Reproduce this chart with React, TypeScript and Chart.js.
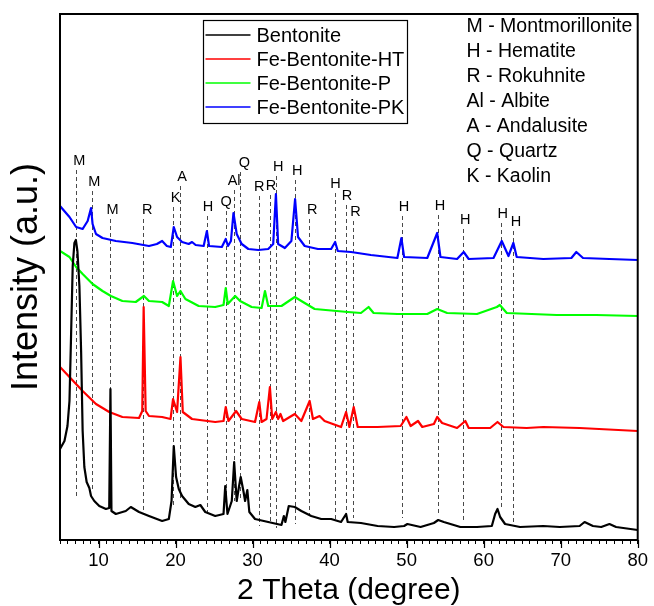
import React, { useEffect, useRef } from 'react';
import { Chart, registerables } from 'chart.js';

Chart.register(...registerables);

const FONT = '"Liberation Sans", Arial, Helvetica, sans-serif';

// ---- series (2θ in degrees, intensity in a.u., traces already offset) ----
const seriesNames = ['Bentonite', 'Fe-Bentonite-HT', 'Fe-Bentonite-P', 'Fe-Bentonite-PK'];
const seriesColors = ['#000000', '#ff0000', '#00ff00', '#0000ff'];

const bentonite: [number, number][] = [
  [5.0, 91], [5.58, 99], [5.97, 114], [6.23, 139], [6.42, 199], [6.65, 274], [6.87, 297], [7.06, 300],
  [7.26, 289], [7.52, 254], [7.74, 189], [7.94, 109], [8.16, 73], [8.46, 58], [8.81, 52], [9.03, 44],
  [9.45, 39], [10.1, 34], [10.96, 31], [11.39, 32], [11.55, 151], [11.68, 29], [12.25, 26], [13.54, 29],
  [14.19, 33], [15.26, 28], [16.55, 24], [18.26, 19], [19.13, 21], [19.48, 39], [19.77, 94], [20.07, 63],
  [20.42, 51], [20.85, 44], [21.71, 36], [22.57, 33], [23.22, 35], [23.86, 28], [25.15, 24], [26.23, 26],
  [26.45, 54], [26.74, 26], [27.3, 39], [27.61, 78], [27.94, 39], [28.25, 54], [28.46, 63], [28.81, 49],
  [29.03, 39], [29.32, 50], [29.58, 28], [30.32, 21], [32.03, 18], [33.75, 15], [34.06, 24], [34.26, 18],
  [34.7, 34], [35.48, 33], [36.33, 29], [37.62, 24], [38.91, 21], [40.2, 21], [41.49, 18], [42.14, 26],
  [42.35, 18], [44.07, 17], [46.23, 14], [48.38, 13], [49.67, 14], [50.1, 16], [51.81, 13], [53.54, 17],
  [54.1, 20], [54.83, 18], [56.97, 13], [59.13, 13], [61.06, 14], [61.49, 26], [61.8, 31], [62.14, 23],
  [62.78, 16], [64.72, 13], [67.74, 14], [69.88, 13], [72.46, 14], [73.1, 18], [74.19, 14], [75.26, 13],
  [76.33, 16], [77.19, 13], [80.0, 10],
];

const feBentoniteHT: [number, number][] = [
  [5.0, 173], [6.23, 163], [7.94, 149], [9.67, 136], [11.39, 128], [13.1, 123], [15.26, 122], [15.68, 129],
  [15.86, 233], [16.12, 129], [16.55, 124], [18.26, 123], [19.35, 121], [19.68, 141], [20.2, 128], [20.64, 183],
  [20.94, 128], [22.14, 121], [25.15, 118], [26.23, 119], [26.52, 133], [26.87, 119], [27.86, 129], [28.59, 121],
  [30.32, 118], [30.87, 138], [31.17, 118], [31.81, 121], [32.25, 153], [32.55, 121], [33.03, 128], [33.32, 121],
  [33.62, 126], [33.97, 119], [35.48, 126], [36.33, 119], [37.41, 139], [37.84, 121], [38.7, 124], [39.35, 119],
  [41.49, 113], [42.14, 128], [42.57, 113], [43.13, 133], [43.65, 113], [46.23, 113], [49.23, 114], [49.97, 123],
  [50.52, 114], [51.48, 119], [52.03, 113], [53.54, 116], [53.97, 123], [54.61, 117], [56.55, 112], [57.62, 119],
  [58.06, 112], [60.85, 112], [61.8, 118], [62.57, 113], [65.58, 112], [67.74, 113], [72.46, 112], [80.0, 109],
];

const feBentoniteP: [number, number][] = [
  [5.0, 289], [6.23, 283], [7.09, 273], [7.94, 266], [9.23, 256], [10.52, 249], [11.61, 244], [13.1, 239],
  [14.83, 238], [15.9, 244], [16.55, 239], [18.26, 238], [19.13, 234], [19.68, 259], [20.2, 244], [20.64, 249],
  [21.28, 241], [23.0, 234], [25.15, 233], [26.23, 235], [26.52, 252], [26.78, 236], [27.74, 244], [28.38, 239],
  [29.88, 233], [31.17, 232], [31.61, 249], [32.03, 234], [33.75, 234], [35.48, 243], [36.33, 239], [38.06, 231],
  [42.35, 228], [44.07, 227], [45.06, 233], [45.71, 227], [48.8, 226], [52.68, 226], [53.97, 231], [55.26, 227],
  [59.13, 226], [61.71, 233], [62.1, 235], [63.0, 227], [69.45, 225], [74.6, 225], [80.0, 224],
];

const feBentonitePK: [number, number][] = [
  [5.0, 334], [6.23, 323], [7.09, 313], [7.94, 311], [8.59, 319], [9.03, 332], [9.23, 316], [9.67, 306],
  [10.52, 302], [12.25, 299], [14.39, 297], [16.55, 294], [17.58, 296], [18.26, 299], [18.87, 294], [19.39, 293],
  [19.77, 313], [20.2, 303], [20.85, 298], [21.71, 296], [22.14, 298], [22.61, 295], [23.65, 294], [24.07, 309],
  [24.35, 294], [26.01, 293], [26.52, 301], [26.81, 294], [27.19, 299], [27.52, 327], [27.94, 306], [28.59, 296],
  [29.45, 291], [30.74, 290], [32.03, 291], [32.68, 296], [33.03, 346], [33.32, 296], [34.19, 292], [35.04, 299],
  [35.52, 341], [35.9, 303], [36.77, 294], [38.48, 291], [40.2, 291], [40.72, 298], [41.06, 289], [42.78, 288],
  [45.36, 285], [48.8, 282], [49.32, 302], [49.67, 283], [52.68, 282], [53.97, 307], [54.39, 283], [56.55, 281],
  [57.41, 288], [58.06, 281], [61.28, 282], [62.35, 299], [63.22, 284], [63.86, 297], [64.29, 283], [67.74, 281],
  [71.39, 282], [72.03, 288], [72.9, 282], [76.33, 281], [80.0, 280],
];

const seriesData = [bentonite, feBentoniteHT, feBentoniteP, feBentonitePK];

// ---- phase markers ----
const markerPos = [7.09, 9.1, 11.55, 15.8, 19.7, 20.64, 24.03, 26.5, 27.55, 28.35, 30.8, 32.2, 33.06, 35.56, 37.3, 40.7, 42.1, 43.05, 49.37, 54.1, 57.3, 62.2, 63.86];
const markerText = ['M', 'M', 'M', 'R', 'K', 'A', 'H', 'Q', 'Al', 'Q', 'R', 'R', 'H', 'H', 'R', 'H', 'R', 'R', 'H', 'H', 'H', 'H', 'H'];
const markerLabelX = [7.52, 9.45, 11.81, 16.33, 19.99, 20.85, 24.2, 26.57, 27.6, 28.94, 30.87, 32.38, 33.32, 35.81, 37.75, 40.77, 42.26, 43.35, 49.67, 54.32, 57.62, 62.48, 64.2];
const markerLabelY = [379, 358, 330, 330, 342, 363, 333, 338, 359, 377, 353, 354, 373, 369, 330, 356, 344, 328, 333, 334, 320, 326, 318];
const markerBottom = [41, 51, 34, 26, 34, 42, 27, 29, 39, 39, 14, 17, 12, 16, 24, 19, 26, 22, 22, 26, 17, 31, 17];

const phaseLegend = ['M - Montmorillonite', 'H - Hematite', 'R - Rokuhnite', 'Al - Albite', 'A - Andalusite', 'Q - Quartz', 'K - Kaolin'];

const xMin = 5;
const xMax = 80;
const yMin = 0;
const yMax = 526;
const majorTicks = [10, 20, 30, 40, 50, 60, 70, 80];

const markersBehind = {
  id: 'markersBehind',
  beforeDatasetsDraw(chart: any) {
    const { ctx, scales } = chart;
    const x = scales.x;
    const y = scales.y;
    ctx.save();
    ctx.strokeStyle = '#4a4a4a';
    ctx.lineWidth = 1;
    ctx.setLineDash([4, 3]);
    markerPos.forEach((p, i) => {
      const px = Math.round(x.getPixelForValue(p)) + 0.5;
      const top = y.getPixelForValue(markerLabelY[i]) + 9;
      const bot = y.getPixelForValue(markerBottom[i]);
      ctx.beginPath();
      ctx.moveTo(px, top);
      ctx.lineTo(px, bot);
      ctx.stroke();
    });
    ctx.restore();
  },
};

const overlay = {
  id: 'overlay',
  afterDraw(chart: any) {
    const { ctx, chartArea: a, scales } = chart;
    const x = scales.x;
    const y = scales.y;
    ctx.save();
    // peak labels
    ctx.fillStyle = '#000';
    ctx.font = `14.5px ${FONT}`;
    ctx.textAlign = 'center';
    ctx.textBaseline = 'middle';
    markerText.forEach((t, i) => {
      ctx.fillText(t, x.getPixelForValue(markerLabelX[i]), y.getPixelForValue(markerLabelY[i]));
    });
    // frame
    ctx.strokeStyle = '#000';
    ctx.lineWidth = 2;
    ctx.strokeRect(a.left, a.top, a.right - a.left, a.bottom - a.top);
    // longer major ticks
    ctx.lineWidth = 1.2;
    majorTicks.forEach((v) => {
      const px = Math.round(x.getPixelForValue(v)) + 0.5;
      ctx.beginPath();
      ctx.moveTo(px, a.bottom);
      ctx.lineTo(px, a.bottom + 8);
      ctx.stroke();
    });
    // series legend
    const lx = 203.5;
    const ly = 20.5;
    ctx.lineWidth = 1.2;
    ctx.strokeRect(lx, ly, 204, 103);
    ctx.font = `20px ${FONT}`;
    ctx.textAlign = 'left';
    chart.data.datasets.forEach((ds: any, i: number) => {
      const ry = 35 + i * 24;
      ctx.strokeStyle = ds.borderColor;
      ctx.lineWidth = 1.6;
      ctx.beginPath();
      ctx.moveTo(lx + 2, ry);
      ctx.lineTo(lx + 47, ry);
      ctx.stroke();
      ctx.fillStyle = '#000';
      ctx.fillText(ds.label, lx + 53, ry + 1);
    });
    // phase legend
    ctx.font = `19.5px ${FONT}`;
    phaseLegend.forEach((t, i) => {
      ctx.fillText(t, 466.5, 27 + i * 24.95);
    });
    ctx.restore();
  },
};

export default function App() {
  const ref = useRef<HTMLCanvasElement | null>(null);
  useEffect(() => {
    if (!ref.current) return;
    const chart = new Chart(ref.current, {
      type: 'line',
      data: {
        datasets: seriesData.map((d, i) => ({
          label: seriesNames[i],
          data: d.map(([xv, yv]) => ({ x: xv, y: yv })),
          borderColor: seriesColors[i],
          backgroundColor: seriesColors[i],
          borderWidth: 2.2,
          borderJoinStyle: 'round',
          pointRadius: 0,
          tension: 0,
          fill: false,
        })),
      },
      options: {
        responsive: false,
        animation: false,
        devicePixelRatio: 1,
        layout: { padding: { left: 0, top: 14, right: 13, bottom: 0 } },
        plugins: { legend: { display: false }, tooltip: { enabled: false }, title: { display: false } },
        scales: {
          x: {
            type: 'linear',
            min: xMin,
            max: xMax,
            afterFit: (s: any) => { s.height = 66; },
            grid: { display: true, drawOnChartArea: false, drawTicks: true, tickLength: 4, tickColor: '#000', tickWidth: 1 },
            border: { display: false },
            ticks: {
              stepSize: 1,
              autoSkip: false,
              maxRotation: 0,
              minRotation: 0,
              padding: 6,
              color: '#000',
              font: { family: FONT, size: 18.5 },
              callback: (v: any) => (majorTicks.includes(Number(v)) ? String(v) : ''),
            },
            title: {
              display: true,
              text: '2 Theta (degree)',
              color: '#000',
              font: { family: FONT, size: 30, lineHeight: 0.8 },
              padding: { top: 0, bottom: 3 },
            },
          },
          y: {
            type: 'linear',
            min: yMin,
            max: yMax,
            afterFit: (s: any) => { s.width = 60; },
            grid: { display: false },
            border: { display: false },
            ticks: { display: false },
            title: {
              display: true,
              text: 'Intensity (a.u.)',
              color: '#000',
              font: { family: FONT, size: 36, lineHeight: 1 },
              padding: { top: 9, bottom: 0 },
            },
          },
        },
      },
      plugins: [markersBehind, overlay],
    });
    return () => chart.destroy();
  }, []);
  return (
    <div style={{ position: 'absolute', left: 0, top: 0, width: 654, height: 606, background: '#fff' }}>
      <canvas ref={ref} width={654} height={606} style={{ width: 654, height: 606 }} />
    </div>
  );
}
